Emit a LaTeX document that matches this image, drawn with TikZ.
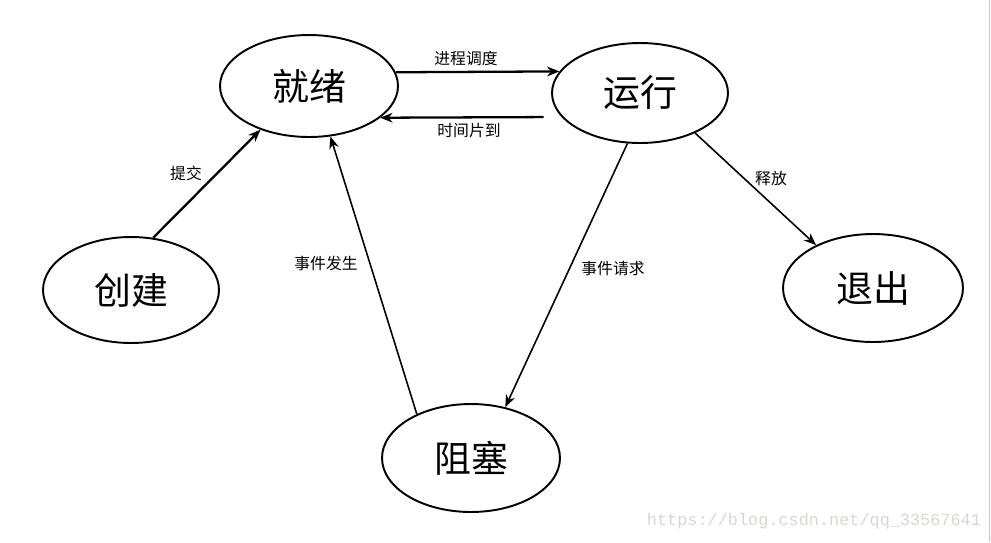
\documentclass[tikz,border=0pt]{standalone}
\usepackage{fontspec}
\setmainfont{Noto Sans CJK SC}
\setmonofont{Liberation Mono}
\usepackage{tikz}
\usetikzlibrary{shapes,arrows.meta}
\pgfdeclarelayer{edgelayer}
\pgfdeclarelayer{nodelayer}
\pgfsetlayers{edgelayer,nodelayer,main}
\definecolor{wmgray}{rgb}{0.84,0.84,0.82}
\tikzstyle{state}=[ellipse, draw=black, fill=white, line width=1.1pt, inner sep=0pt, font=\fontsize{21}{24}\selectfont]
\tikzstyle{arrow}=[-{Stealth[length=7pt,width=5.5pt]}, draw=black, line width=1.3pt]
\tikzstyle{thinarrow}=[-{Stealth[length=7pt,width=5.5pt]}, draw=black, line width=0.9pt]
\tikzstyle{edgetext}=[font=\fontsize{9}{11}\selectfont, inner sep=0pt]

\begin{document}
\begin{tikzpicture}[x=0.02cm, y=-0.02cm]
            \useasboundingbox (0,0) rectangle (991,542);
            \begin{pgfonlayer}{nodelayer}
                \node [style=state, minimum width=3.56cm, minimum height=2.04cm] (ready) at (309, 86) {就绪};
                \node [style=state, minimum width=3.52cm, minimum height=2.00cm] (run) at (640, 93) {运行};
                \node [style=state, minimum width=3.52cm, minimum height=2.12cm] (create) at (131, 290) {创建};
                \node [style=state, minimum width=3.60cm, minimum height=2.16cm] (exit) at (873, 288) {退出};
                \node [style=state, minimum width=3.56cm, minimum height=2.16cm] (block) at (471, 458) {阻塞};

                \node [style=edgetext] (schedule) at (466, 58) {进程调度};
                \node [style=edgetext] (timeout) at (469, 131) {时间片到};
                \node [style=edgetext] (submit) at (186, 173) {提交};
                \node [style=edgetext] (wakeup) at (326, 263) {事件发生};
                \node [style=edgetext] (request) at (613, 269) {事件请求};
                \node [style=edgetext] (release) at (771, 178) {释放};

                \node [font=\ttfamily\fontsize{9.6}{11}\selectfont, text=wmgray, inner sep=0pt] (mark) at (814, 521) {https://blog.csdn.net/qq\_33567641};
            \end{pgfonlayer}
            \begin{pgfonlayer}{edgelayer}
                \draw [style=arrow] (ready.9) to (run.165);
                \draw [style=arrow, shorten <=0.36cm] (run.197) to (ready.-24);
                \draw [style=arrow] (create.67) to (ready.-138);
                \draw [style=thinarrow] (block.141) to (ready.-67);
                \draw [style=thinarrow] (run.-104) to (block.56);
                \draw [style=thinarrow] (run.-36) to (exit.143);

                \draw [draw=gray!45, line width=0.6pt] (989.5, 0) -- (989.5, 542);
            \end{pgfonlayer}
        \end{tikzpicture}
\end{document}
